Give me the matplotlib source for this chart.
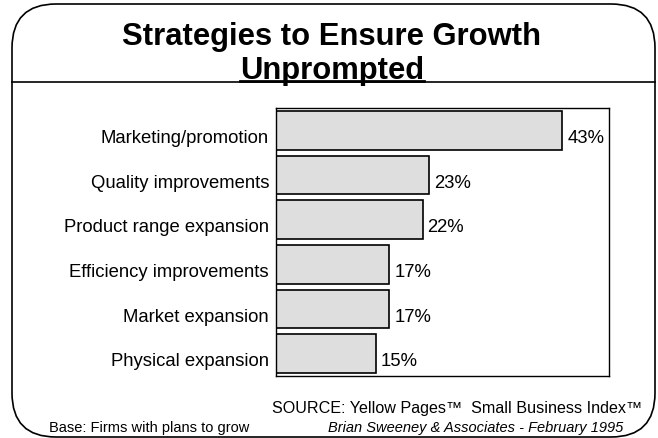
import matplotlib
matplotlib.use("Agg")
import matplotlib.pyplot as plt
from matplotlib.patches import FancyBboxPatch
from matplotlib.lines import Line2D

plt.rcParams["font.family"] = ["Liberation Sans", "DejaVu Sans"]

# growth strategies, top to bottom
strategies = [
    "Marketing/promotion",
    "Quality improvements",
    "Product range expansion",
    "Efficiency improvements",
    "Market expansion",
    "Physical expansion",
]
pct = [43, 23, 22, 17, 17, 15]

W, H = 658, 439
fig = plt.figure(figsize=(W / 100, H / 100), dpi=100)

# rounded frame around the whole slide (pixel coords)
frame = FancyBboxPatch((12, 1), 643, 433, boxstyle="round,pad=0,rounding_size=44",
                       transform=None, fill=False, edgecolor="black", lw=1.2)
fig.patches.append(frame)
# divider under the title
fig.lines.append(Line2D([12, 655], [H - 83, H - 83], transform=None, color="black", lw=1.2))

fig.text(332 / W, 1 - 45 / H, "Strategies to Ensure Growth", ha="center", va="baseline",
         fontsize=22.3, fontweight="bold")
sub = fig.text(332 / W, 1 - 79 / H, "Unprompted", ha="center", va="baseline",
               fontsize=22.3, fontweight="bold")

ax = fig.add_axes([276 / W, 62 / H, 333 / W, 268 / H])
y = list(range(len(strategies)))
bars = ax.barh(y, pct, height=0.87, color="#dedede", edgecolor="black", lw=1.2)

# text baselines sit a little below the bar centres
base_off = 0.26
for b, v in zip(bars, pct):
    ax.text(b.get_width() + 0.75, b.get_y() + b.get_height() / 2 + base_off, f"{v}%",
            va="baseline", ha="left", fontsize=13.3)
for i, name in enumerate(strategies):
    ax.text(-0.021, i + base_off, name, transform=ax.get_yaxis_transform(),
            va="baseline", ha="right", fontsize=13.3)

ax.set_xlim(0, 50)
ax.set_ylim(len(strategies) - 0.5, -0.5)
ax.set_yticks([])
ax.set_xticks([])
for s in ax.spines.values():
    s.set_linewidth(1.0)

fig.text(49 / W, 1 - 432 / H, "Base: Firms with plans to grow", ha="left", va="baseline",
         fontsize=10.5)
fig.text(642 / W, 1 - 413 / H, "SOURCE: Yellow Pages\u2122  Small Business Index\u2122",
         ha="right", va="baseline", fontsize=11.6)
fig.text(623 / W, 1 - 432 / H, "Brian Sweeney & Associates - February 1995",
         ha="right", va="baseline", fontsize=10.5, style="italic")

# underline the subtitle
fig.canvas.draw()
bb = sub.get_window_extent()
fig.lines.append(Line2D([bb.x0, bb.x1], [H - 81.5, H - 81.5], transform=None,
                        color="black", lw=2))

fig.savefig("out.png", dpi=100)
